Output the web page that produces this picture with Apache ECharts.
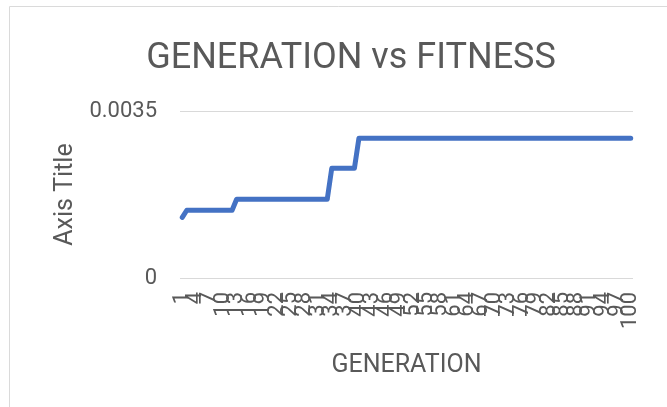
<!DOCTYPE html>
<html>
<head>
<meta charset="utf-8">
<script src="https://cdn.jsdelivr.net/npm/echarts@6/dist/echarts.min.js"></script>
<style>html,body{margin:0;padding:0;background:#fff;}#c{width:667px;height:407px;}</style>
</head>
<body>
<div id="c"></div>
<script>
const generations = [
  1,2,3,4,5,6,7,8,9,10,11,12,13,14,15,16,17,18,19,20,
  21,22,23,24,25,26,27,28,29,30,31,32,33,34,35,36,37,38,39,40,
  41,42,43,44,45,46,47,48,49,50,51,52,53,54,55,56,57,58,59,60,
  61,62,63,64,65,66,67,68,69,70,71,72,73,74,75,76,77,78,79,80,
  81,82,83,84,85,86,87,88,89,90,91,92,93,94,95,96,97,98,99,100
];
const fitness = [
  0.00127,0.00142,0.00142,0.00142,0.00142,0.00142,0.00142,0.00142,0.00142,0.00142,
  0.00142,0.00142,0.00165,0.00165,0.00165,0.00165,0.00165,0.00165,0.00165,0.00165,
  0.00165,0.00165,0.00165,0.00165,0.00165,0.00165,0.00165,0.00165,0.00165,0.00165,
  0.00165,0.00165,0.00165,0.0023,0.0023,0.0023,0.0023,0.0023,0.0023,0.00293,
  0.00293,0.00293,0.00293,0.00293,0.00293,0.00293,0.00293,0.00293,0.00293,0.00293,
  0.00293,0.00293,0.00293,0.00293,0.00293,0.00293,0.00293,0.00293,0.00293,0.00293,
  0.00293,0.00293,0.00293,0.00293,0.00293,0.00293,0.00293,0.00293,0.00293,0.00293,
  0.00293,0.00293,0.00293,0.00293,0.00293,0.00293,0.00293,0.00293,0.00293,0.00293,
  0.00293,0.00293,0.00293,0.00293,0.00293,0.00293,0.00293,0.00293,0.00293,0.00293,
  0.00293,0.00293,0.00293,0.00293,0.00293,0.00293,0.00293,0.00293,0.00293,0.00293
];
const titleText = 'GENERATION vs FITNESS';
const xName = 'GENERATION';
const yName = 'Axis Title';
const yMin = 0, yMax = 0.0035, yStep = 0.0035;
const labelEvery = 3;

const textColor = '#595959';
const font = 'Roboto';
const chart = echarts.init(document.getElementById('c'), null, {renderer: 'canvas'});
chart.setOption({
  animation: false,
  backgroundColor: '#ffffff',
  textStyle: {fontFamily: font},
  title: {
    text: titleText, left: 346, top: 36, textAlign: 'center',
    textStyle: {fontFamily: font, fontSize: 36, fontWeight: 'normal', color: textColor}
  },
  graphic: [{
    type: 'rect', silent: true,
    shape: {x: 9.5, y: 6.5, width: 720, height: 500},
    style: {fill: 'none', stroke: '#dadada', lineWidth: 1}
  }],
  grid: {left: 180, right: 34, top: 111, bottom: 129, containLabel: false},
  xAxis: {
    type: 'category', data: generations, boundaryGap: true,
    name: xName, nameLocation: 'middle', nameGap: 75,
    nameTextStyle: {fontFamily: font, fontSize: 25, color: textColor},
    axisLine: {show: false}, axisTick: {show: false},
    axisLabel: {
      interval: 0, hideOverlap: false,
      formatter: function (value, idx) { return idx % labelEvery === 0 ? String(value) : ''; },
      rotate: 90, fontSize: 22, color: textColor, margin: 14, fontFamily: font
    }
  },
  yAxis: {
    type: 'value', min: yMin, max: yMax, interval: yStep,
    name: yName, nameLocation: 'middle', nameGap: 99, nameRotate: 90,
    nameTextStyle: {fontFamily: font, fontSize: 25, color: textColor},
    axisLine: {show: false}, axisTick: {show: false},
    axisLabel: {fontSize: 22, color: textColor, margin: 23, fontFamily: font},
    splitLine: {lineStyle: {color: '#d9d9d9', width: 1}}
  },
  series: [{
    type: 'line', data: fitness, showSymbol: false, symbol: 'none',
    lineStyle: {color: '#4472c4', width: 5, cap: 'round', join: 'round'},
    itemStyle: {color: '#4472c4'}
  }]
});
</script>
</body>
</html>
